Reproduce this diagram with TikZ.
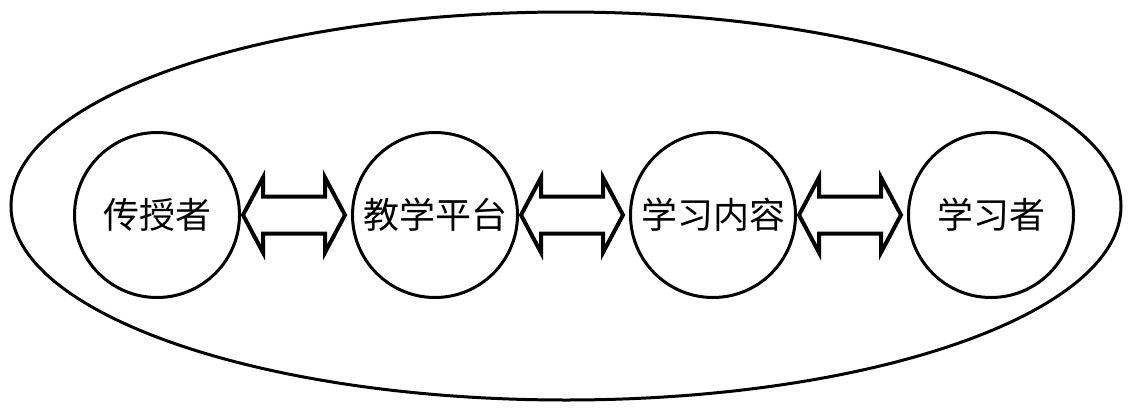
\documentclass[tikz,border=0pt]{standalone}
\usepackage{fontspec}
\newfontfamily\cjk{Noto Sans CJK SC}
\usepackage{tikz}
\usetikzlibrary{calc, positioning}
\tikzstyle{circ}=[circle, draw, line width=1.5pt, minimum size=82.5pt, inner sep=0pt]
\tikzstyle{dblarr}=[draw, line width=2pt, line join=miter]

% two-headed block arrow between two nodes
\newcommand{\biarrow}[2]{%
  \draw[dblarr] let \p1=($(#1.east)+(1pt,0)$), \p2=($(#2.west)-(3pt,0)$) in
    (\x1,\y1) -- (\x1+10pt,\y1+18.75pt) -- (\x1+10pt,\y1+9.25pt)
    -- (\x2-10pt,\y1+9.25pt) -- (\x2-10pt,\y1+18.75pt) -- (\x2,\y1)
    -- (\x2-10pt,\y1-18.75pt) -- (\x2-10pt,\y1-9.25pt)
    -- (\x1+10pt,\y1-9.25pt) -- (\x1+10pt,\y1-18.75pt) -- cycle;}

\begin{document}
\begin{tikzpicture}

\tikzset{every node/.style={font=\cjk\fontsize{18pt}{21pt}\selectfont}}
\tikzset{node distance=55pt}

\useasboundingbox (0,0) rectangle (565.5pt,207pt);

% outer ellipse
\draw[line width=1.5pt] (283pt,104pt) ellipse [x radius=277.5pt, y radius=97pt];

% chain of roles
\node[circ] (teacher) at (78.5pt,99.5pt) {传授者};
\node[circ, right=of teacher] (platform) {教学平台};
\node[circ, right=of platform] (content) {学习内容};
\node[circ, right=of content] (learner) {学习者};

\biarrow{teacher}{platform} % teacher <-> platform
\biarrow{platform}{content} % platform <-> content
\biarrow{content}{learner} % content <-> learner

\end{tikzpicture}
\end{document}
